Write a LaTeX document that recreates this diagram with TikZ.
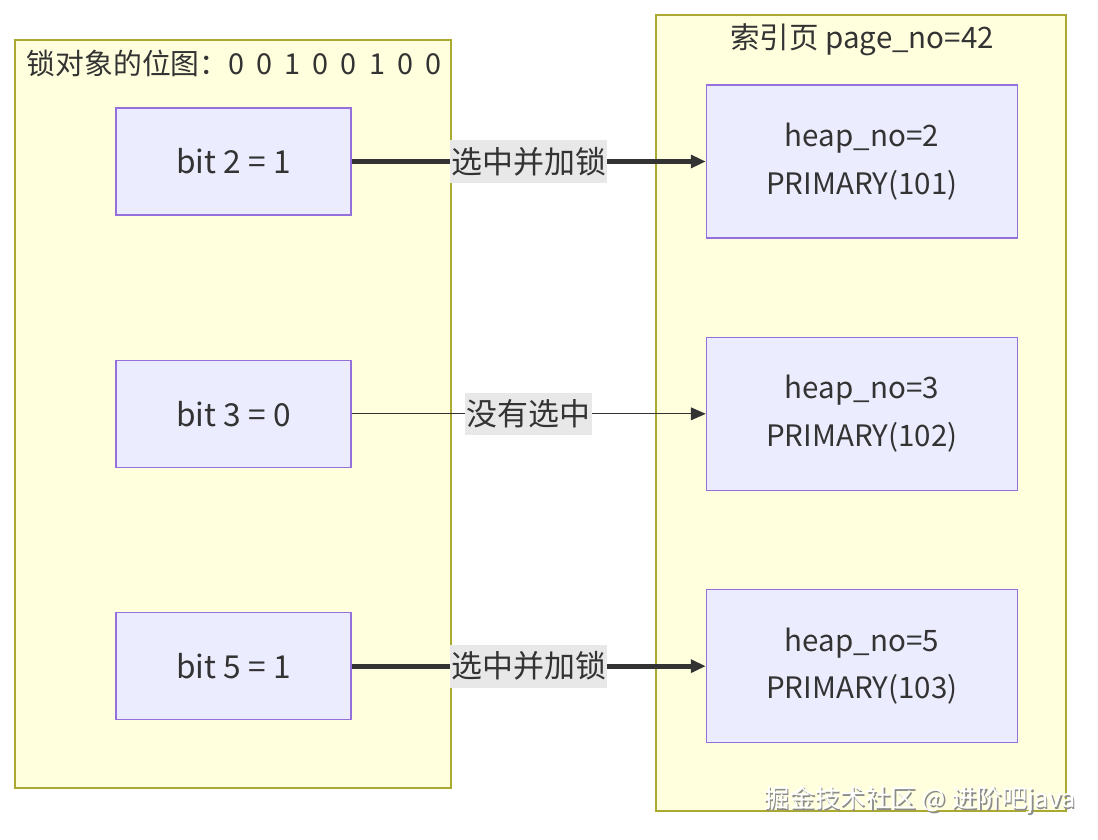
\documentclass[tikz,border=0pt]{standalone}
\usepackage{fontspec}
\setmainfont{Noto Sans CJK SC}
\usetikzlibrary{positioning,arrows.meta}
\definecolor{clusterfill}{HTML}{FFFFDE}
\definecolor{clusterline}{HTML}{AAAA33}
\definecolor{nodefill}{HTML}{ECECFF}
\definecolor{nodeline}{HTML}{9370DB}
\definecolor{textgray}{HTML}{333333}
\definecolor{labelbg}{HTML}{E8E8E8}
\newcommand{\bitmapfont}{\fontsize{20.5}{24}\selectfont\spaceskip=0.42em\relax}

\begin{document}
\begin{tikzpicture}[
    x=0.025cm, y=-0.025cm,
    every node/.style={text=textgray},
    cluster/.style={draw=clusterline, fill=clusterfill, line width=0.9pt},
    bitnode/.style={rectangle, draw=nodeline, fill=nodefill, line width=0.9pt,
        minimum width=5.875cm, minimum height=2.675cm, font=\fontsize{22.5}{26}\selectfont},
    heapnode/.style={rectangle, draw=nodeline, fill=nodefill, line width=0.9pt, align=center,
        minimum width=7.775cm, minimum height=3.825cm, font=\fontsize{21}{34}\selectfont},
    edgelabel/.style={fill=labelbg, inner xsep=1pt, inner ysep=5pt, font=\fontsize{22}{26}\selectfont},
    thickedge/.style={draw=textgray, line width=3.5pt, -{Triangle[length=10.5pt,width=9pt]}},
    thinedge/.style={draw=textgray, line width=0.9pt, -{Triangle[length=10.5pt,width=9pt]}}
]
    \useasboundingbox (0,0) rectangle (1098,840);
    \fill[white] (0,0) rectangle (1098,840);

    % Lock bitmap
    \draw[cluster] (15,40) rectangle (451,788);
    \node[font=\bitmapfont] (bmtitle) at (234,63) {锁对象的位图：0 0 1 0 0 1 0 0};
    \node[bitnode] (b2) at (233.5,161.5) {bit 2 = 1};
    \node[bitnode, below=3.6cm of b2] (b3) {bit 3 = 0};
    \node[bitnode, below=3.6cm of b3] (b5) {bit 5 = 1};

    % Index page
    \draw[cluster] (656,15) rectangle (1066,811);
    \node[font=\fontsize{21}{25}\selectfont] (pgtitle) at (862,40) {索引页 page\_no=42};
    \node[heapnode, right=8.85cm of b2] (h2) {heap\_no=2\\PRIMARY(101)};
    \node[heapnode, right=8.85cm of b3] (h3) {heap\_no=3\\PRIMARY(102)};
    \node[heapnode, right=8.85cm of b5] (h5) {heap\_no=5\\PRIMARY(103)};

    \draw[thickedge] (b2) -- (h2) node[midway, edgelabel] {选中并加锁};
    \draw[thinedge] (b3) -- (h3) node[midway, edgelabel] {没有选中};
    \draw[thickedge] (b5) -- (h5) node[midway, edgelabel] {选中并加锁};

    % watermark
    \node[text=black!45, font=\fontsize{18}{22}\selectfont] (wmshadow) at (921.5,801.5) {掘金技术社区 @ 进阶吧java};
    \node[text=white, font=\fontsize{18}{22}\selectfont] (wm) at (920,800) {掘金技术社区 @ 进阶吧java};
\end{tikzpicture}
\end{document}
